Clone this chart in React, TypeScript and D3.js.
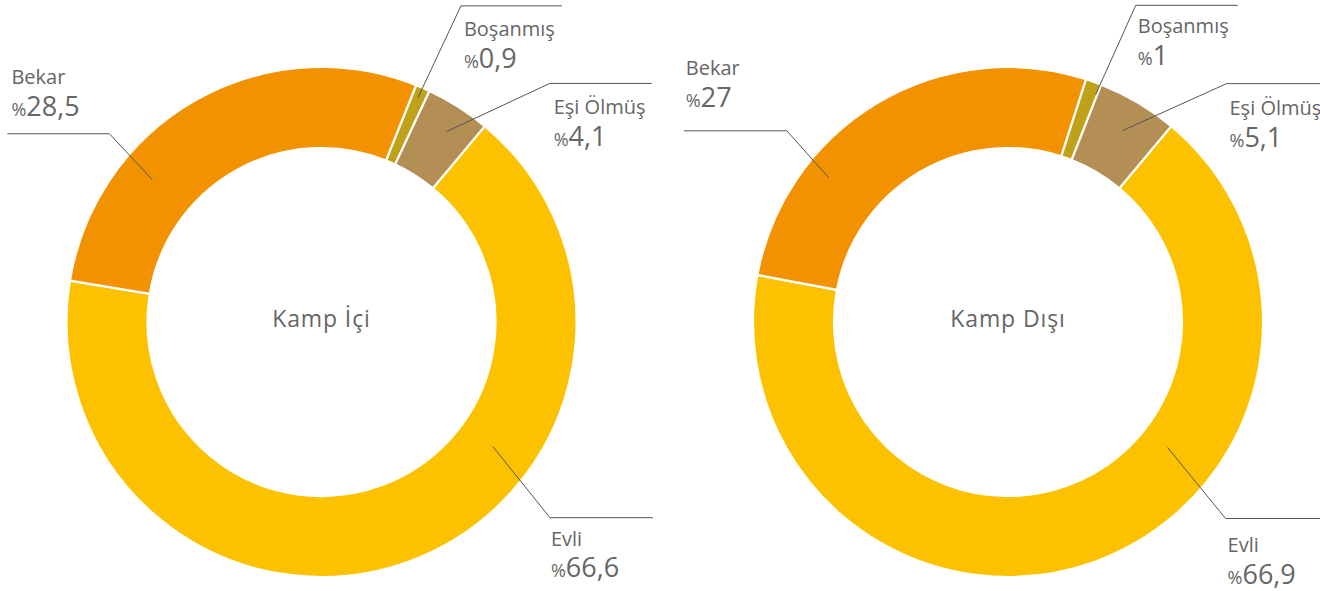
import React from 'react';
import * as d3 from 'd3';

const categories = ['Evli', 'Bekar', 'Boşanmış', 'Eşi Ölmüş'];
const kampIciValues = [66.6, 28.5, 0.9, 4.1];
const kampDisiValues = [66.9, 27, 1, 5.1];
const chartTitles = ['Kamp İçi', 'Kamp Dışı'];
const colors = ['#FCC200', '#F29200', '#BFA21A', '#B38E55'];

const W = 1320;
const H = 591;
const OUTER = 255;
const INNER = 174;
const START_DEG = 39.8;
const TEXT = '#666666';
const FONT = "'Open Sans', 'DejaVu Sans', sans-serif";
const WEIGHT = 400;

type LabelLayout = { t: number; r: number; dx: number; dy: number; len: number; tx: number; ty1: number; ty2: number };

const layoutIci: LabelLayout[] = [
  { t: 0.36, r: 212, dx: 57, dy: 71, len: 103, tx: 1, ty1: 28, ty2: 59 },
  { t: 0.3, r: 221, dx: -43, dy: -46, len: -102, tx: 4, ty1: -50, ty2: -18 },
  { t: 0.45, r: 244, dx: 43, dy: -92, len: 101, tx: 3, ty1: 30, ty2: 62 },
  { t: 0.56, r: 228, dx: 103, dy: -48, len: 102, tx: 4, ty1: 31, ty2: 63 },
];
const layoutDisi: LabelLayout[] = [
  { t: 0.367, r: 203, dx: 58, dy: 71, len: 103, tx: 2, ty1: 33, ty2: 65 },
  { t: 0.29, r: 230, dx: -42, dy: -47, len: -103, tx: 2, ty1: -56, ty2: -24 },
  { t: 0.9, r: 244, dx: 40, dy: -89, len: 102, tx: 2, ty1: 28, ty2: 60 },
  { t: 0.515, r: 223, dx: 104, dy: -47, len: 102, tx: 3, ty1: 31, ty2: 63 },
];

const fmt = (v: number) => String(v).replace('.', ',');

function Donut({ cx, cy, values, title, layout }: { cx: number; cy: number; values: number[]; title: string; layout: LabelLayout[] }) {
  const start = (START_DEG * Math.PI) / 180;
  const pie = d3
    .pie<number>()
    .sort(null)
    .value((d) => d)
    .startAngle(start)
    .endAngle(start + 2 * Math.PI);
  const arcs = pie(values);
  const arc = d3.arc<d3.PieArcDatum<number>>().innerRadius(INNER).outerRadius(OUTER);
  return (
    <g transform={`translate(${cx},${cy})`}>
      {arcs.map((a, i) => (
        <path key={i} d={arc(a) || ''} fill={colors[i]} stroke="#fff" strokeWidth={2.2} />
      ))}
      {arcs.map((a, i) => {
        const L = layout[i];
        const ang = a.startAngle + L.t * (a.endAngle - a.startAngle);
        const x0 = L.r * Math.sin(ang);
        const y0 = -L.r * Math.cos(ang);
        const x1 = x0 + L.dx;
        const y1 = y0 + L.dy;
        const x2 = x1 + L.len;
        const tx = Math.min(x1, x2) + L.tx;
        return (
          <g key={'l' + i}>
            <polyline points={`${x0},${y0} ${x1},${y1} ${x2},${y1}`} fill="none" stroke="#555" strokeWidth={1} />
            <text x={tx} y={y1 + L.ty1} fontSize={20} fontWeight={WEIGHT} fill={TEXT} fontFamily={FONT}>
              {categories[i]}
            </text>
            <text x={tx} y={y1 + L.ty2} fill={TEXT} fontWeight={WEIGHT} fontFamily={FONT}>
              <tspan fontSize={18}>%</tspan>
              <tspan fontSize={27}>{fmt(values[i])}</tspan>
            </text>
          </g>
        );
      })}
      <text x={0} y={5} textAnchor="middle" fontSize={23} letterSpacing={0.9} fontWeight={WEIGHT} fill={TEXT} fontFamily={FONT}>
        {title}
      </text>
    </g>
  );
}

export default function App() {
  return (
    <svg width={W} height={H} style={{ position: 'absolute', left: 0, top: 0, background: '#fff' }}>
      <rect width={W} height={H} fill="#fff" />
      <Donut cx={321.5} cy={322} values={kampIciValues} title={chartTitles[0]} layout={layoutIci} />
      <Donut cx={1008} cy={322} values={kampDisiValues} title={chartTitles[1]} layout={layoutDisi} />
    </svg>
  );
}
